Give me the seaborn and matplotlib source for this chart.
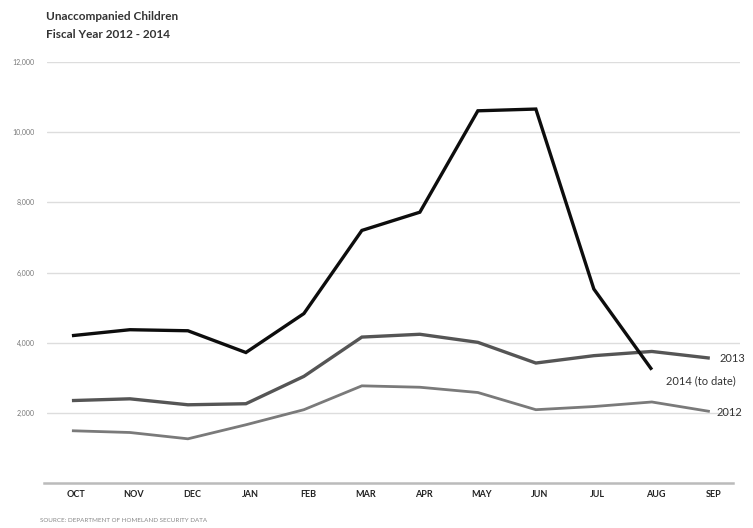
import numpy as np
import pandas as pd
import matplotlib
matplotlib.use("Agg")
import matplotlib.pyplot as plt
import matplotlib.transforms as mtransforms
import seaborn as sns

months = ["OCT", "NOV", "DEC", "JAN", "FEB", "MAR", "APR", "MAY", "JUN", "JUL", "AUG", "SEP"]
fy2012 = [1490, 1440, 1260, 1660, 2090, 2770, 2730, 2580, 2090, 2180, 2310, 2040]
fy2013 = [2350, 2400, 2230, 2260, 3040, 4160, 4240, 4010, 3420, 3630, 3750, 3560]
fy2014 = [4200, 4370, 4340, 3720, 4830, 7200, 7720, 10610, 10660, 5530, 3230, np.nan]
series_names = ["2012", "2013", "2014"]
series_labels = ["2012", "2013", "2014 (to date)"]
y_ticks = [2000, 4000, 6000, 8000, 10000, 12000]

frames = []
for name, vals in zip(series_names, [fy2012, fy2013, fy2014]):
    frames.append(pd.DataFrame({"pos": np.arange(len(months)), "month": months,
                                "count": vals, "year": name}))
df = pd.concat(frames, ignore_index=True).dropna()

sns.set_style("white")
plt.rcParams["font.family"] = ["Lato", "DejaVu Sans"]

fig = plt.figure(figsize=(7.53, 5.28), dpi=100)
ax = fig.add_axes([0.0624, 0.0852, 0.9203, 0.7973])

palette = {"2012": "#7a7a7a", "2013": "#555555", "2014": "#0d0d0d"}
widths = {"2012": 2.0, "2013": 2.4, "2014": 2.4}
for name in series_names:
    sns.lineplot(data=df[df["year"] == name], x="pos", y="count", color=palette[name],
                 linewidth=widths[name], ax=ax, legend=False, sort=False,
                 solid_joinstyle="miter", solid_capstyle="butt", zorder=3)

ax.set_xlim(-0.43, 11.52)
ax.set_ylim(0, 12000)
ax.set_yticks(y_ticks)
ax.set_yticklabels([f"{v:,}" for v in y_ticks], fontsize=5, color="#777777")
ax.set_xticks(np.arange(len(months)))
ax.set_xticklabels(months, fontsize=6.5, fontweight="bold", color="#222222")
ax.tick_params(axis="both", length=0)
ax.tick_params(axis="y", pad=9)
ax.tick_params(axis="x", pad=5)
ax.set_xlabel("")
ax.set_ylabel("")

# month labels sit slightly right of their points
shift = mtransforms.ScaledTranslation(4 / 100, 0, fig.dpi_scale_trans)
for lbl in ax.get_xticklabels():
    lbl.set_transform(lbl.get_transform() + shift)

for v in y_ticks:
    ax.axhline(v, color="#dddddd", linewidth=1.0, zorder=1)
for side in ["top", "right", "left"]:
    ax.spines[side].set_visible(False)
ax.spines["bottom"].set_color("#bbbbbb")
ax.spines["bottom"].set_linewidth(1.8)
ax.spines["bottom"].set_bounds(-0.48, 11.4)

# end-of-line series labels
ax.text(11.17, fy2013[11] - 20, series_labels[1], fontsize=8, color="#333333", va="center", ha="left")
ax.text(10.25, fy2014[10] - 320, series_labels[2], fontsize=8, color="#333333", va="center", ha="left")
ax.text(11.12, fy2012[11] - 20, series_labels[0], fontsize=8, color="#333333", va="center", ha="left")

fig.text(46 / 753, 1 - 17 / 528, "Unaccompanied Children", fontsize=8.5, fontweight="bold",
         color="#333333", va="center", ha="left")
fig.text(46 / 753, 1 - 35 / 528, "Fiscal Year 2012 - 2014", fontsize=8.5, fontweight="bold",
         color="#333333", va="center", ha="left")
fig.text(40 / 753, 1 - 520 / 528, "SOURCE: DEPARTMENT OF HOMELAND SECURITY DATA", fontsize=4.5,
         color="#888888", va="center", ha="left")

fig.savefig("out.png", dpi=100)
